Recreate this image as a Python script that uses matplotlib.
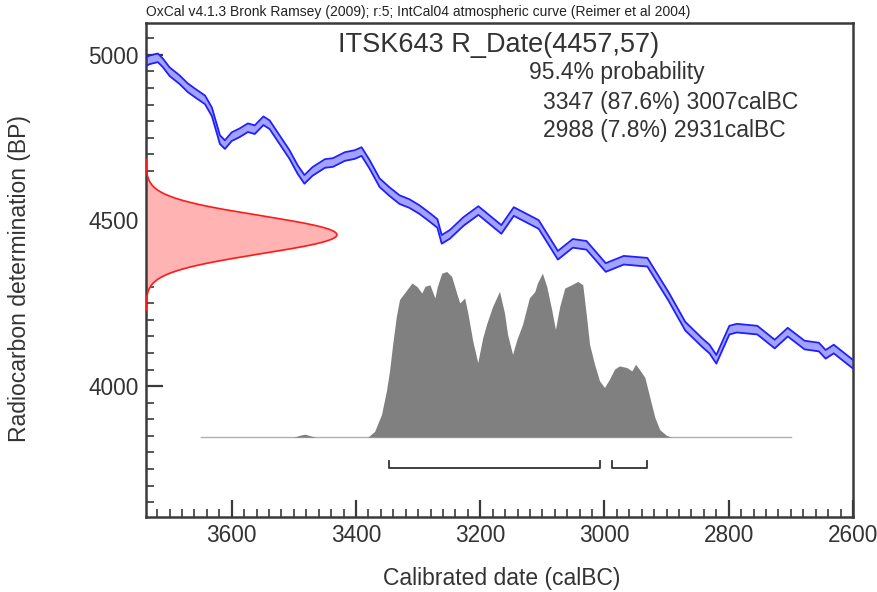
import numpy as np
import matplotlib
matplotlib.use("Agg")
import matplotlib.pyplot as plt
from matplotlib.ticker import MultipleLocator

plt.rcParams['font.family'] = ['Liberation Sans', 'DejaVu Sans']

# ---- data ----
curve_year = [3738, 3732, 3719, 3711, 3700, 3684, 3671, 3660, 3643, 3632, 3619, 3611,
              3600, 3587, 3574, 3563, 3549, 3539, 3523, 3507, 3494, 3483, 3470, 3450,
              3437, 3418, 3402, 3391, 3378, 3362, 3346, 3330, 3314, 3298, 3281, 3269,
              3262, 3249, 3227, 3203, 3166, 3146, 3106, 3075, 3051, 3029, 2998, 2969,
              2931, 2897, 2870, 2842, 2831, 2820, 2799, 2787, 2754, 2726, 2705, 2678,
              2655, 2644, 2631, 2600]
curve_bp = [4979, 4985, 4991, 4976, 4949, 4925, 4901, 4886, 4864, 4828, 4744, 4729,
            4753, 4765, 4780, 4774, 4801, 4789, 4744, 4699, 4654, 4624, 4648, 4672,
            4675, 4693, 4699, 4708, 4669, 4614, 4587, 4563, 4551, 4533, 4509, 4491,
            4443, 4458, 4497, 4530, 4473, 4527, 4488, 4395, 4431, 4425, 4358, 4380,
            4374, 4271, 4181, 4130, 4112, 4081, 4169, 4175, 4169, 4127, 4163, 4124,
            4118, 4096, 4112, 4066]
curve_sigma = 13

r_date_mean = 4457
r_date_sigma = 57

post_year = [3650, 3500, 3490, 3482, 3475, 3465, 3381, 3370, 3359, 3351, 3346, 3341,
             3335, 3330, 3322, 3310, 3302, 3294, 3289, 3281, 3273, 3269, 3262, 3254,
             3246, 3238, 3233, 3225, 3220, 3212, 3204, 3196, 3190, 3180, 3169, 3161,
             3156, 3148, 3141, 3132, 3121, 3112, 3108, 3100, 3093, 3085, 3079, 3072,
             3064, 3053, 3043, 3035, 3029, 3024, 3016, 3008, 3000, 2992, 2984, 2976,
             2964, 2956, 2950, 2944, 2935, 2927, 2919, 2911, 2900, 2892, 2700]
post_prob = [0, 0, 0.012, 0.018, 0.010, 0, 0, 0.035, 0.136, 0.28, 0.40, 0.56,
             0.73, 0.83, 0.87, 0.93, 0.91, 0.87, 0.91, 0.92, 0.84, 0.91, 0.99, 1.0,
             0.97, 0.87, 0.81, 0.84, 0.75, 0.58, 0.45, 0.60, 0.68, 0.79, 0.88, 0.75,
             0.62, 0.50, 0.59, 0.68, 0.84, 0.88, 0.93, 0.99, 0.91, 0.77, 0.65, 0.79,
             0.90, 0.92, 0.94, 0.92, 0.73, 0.56, 0.44, 0.34, 0.30, 0.35, 0.41, 0.43,
             0.42, 0.40, 0.44, 0.41, 0.36, 0.24, 0.12, 0.045, 0.01, 0, 0]

ranges = [(3347, 3007), (2988, 2931)]

header = "OxCal v4.1.3 Bronk Ramsey (2009); r:5; IntCal04 atmospheric curve (Reimer et al 2004)"
title = "ITSK643 R_Date(4457,57)"
prob_lines = ["95.4% probability", "3347 (87.6%) 3007calBC", "2988 (7.8%) 2931calBC"]
xticks = [3600, 3400, 3200, 3000, 2800, 2600]
yticks = [4000, 4500, 5000]

# ---- figure ----
W, H = 877, 592
fig = plt.figure(figsize=(W / 100, H / 100), dpi=100)
ax = fig.add_axes([146 / W, 1 - 517 / H, (853 - 146) / W, (517 - 23) / H])
xlim = (3738, 2600)
ylim = (3605, 5096)
ax.set_xlim(*xlim)
ax.set_ylim(*ylim)

# calibration curve band
cy = np.array(curve_year, float)
cb = np.array(curve_bp, float)
ax.fill_between(cy, cb - curve_sigma, cb + curve_sigma, color='#a3a3ff', lw=0, zorder=2)
ax.plot(cy, cb - curve_sigma, color='#1f1fff', lw=1.3, zorder=3)
ax.plot(cy, cb + curve_sigma, color='#1f1fff', lw=1.3, zorder=3)

# radiocarbon date gaussian
yy = np.linspace(r_date_mean - 4 * r_date_sigma, r_date_mean + 4 * r_date_sigma, 300)
g = np.exp(-0.5 * ((yy - r_date_mean) / r_date_sigma) ** 2)
amp = 0.27 * (xlim[0] - xlim[1])
ax.fill_betweenx(yy, xlim[0], xlim[0] - amp * g, color='#ffb3b3', lw=0, zorder=2)
ax.plot(xlim[0] - amp * g, yy, color='#ff1a1a', lw=1.2, zorder=3)

# posterior distribution
base = 3846
height = 500
py = np.array(post_year, float)
pp = np.array(post_prob, float)
ax.fill_between(py, base, base + height * pp, color='#808080', lw=0, zorder=2)
ax.plot([post_year[0], post_year[-1]], [base, base], color='#b0b0b0', lw=1.0, zorder=1)

# range brackets
by, bh = 3752, 22
for a, b in ranges:
    ax.plot([a, a, b, b], [by + bh, by, by, by + bh], color='#333333', lw=1.3, zorder=3)

# axes style
for s in ax.spines.values():
    s.set_color('#3a3a3a')
    s.set_linewidth(1.8)
ax.set_xticks(xticks)
ax.set_yticks(yticks)
ax.xaxis.set_minor_locator(MultipleLocator(20))
ax.yaxis.set_minor_locator(MultipleLocator(50))
ax.tick_params(which='major', direction='in', length=12, width=1.6, color='#3a3a3a',
               labelsize=16.3, labelcolor='#333333', pad=5)
ax.tick_params(which='minor', direction='in', length=6, width=1.2, color='#3a3a3a')
ax.tick_params(top=False, right=False, which='both')

# texts
def fx(px):
    return px / W

def fy(py_):
    return 1 - py_ / H

tc = '#333333'
fig.text(fx(146), fy(12), header, fontsize=10, ha='left', va='center', color='#222222')
fig.text(fx(499), fy(45), title, fontsize=19.5, ha='center', va='center', color=tc)
fig.text(fx(529), fy(73), prob_lines[0], fontsize=16.5, ha='left', va='center', color=tc)
fig.text(fx(543), fy(102), prob_lines[1], fontsize=16.5, ha='left', va='center', color=tc)
fig.text(fx(543), fy(130), prob_lines[2], fontsize=16.5, ha='left', va='center', color=tc)
fig.text(fx(502), fy(578), "Calibrated date (calBC)", fontsize=16.5, ha='center', va='center',
         color=tc)
fig.text(fx(20), fy(279), "Radiocarbon determination (BP)", fontsize=16.5, ha='center',
         va='center', rotation=90, color=tc)

fig.savefig("out.png", dpi=100)
